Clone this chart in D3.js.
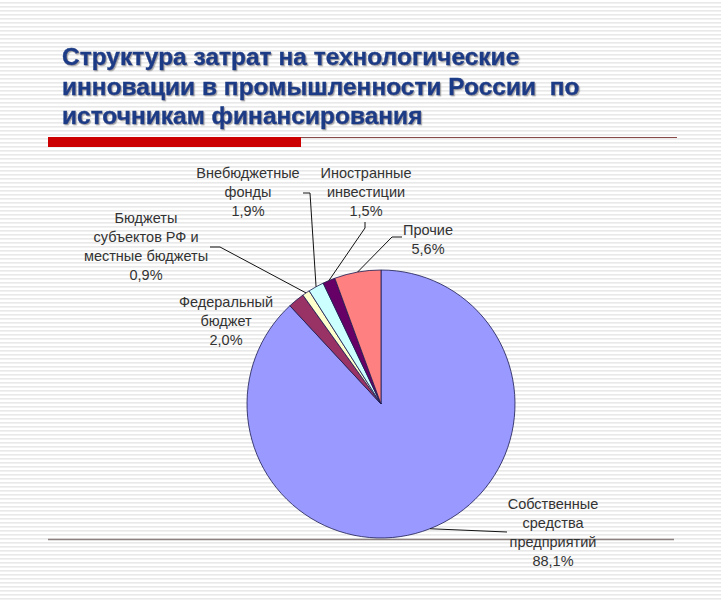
<!DOCTYPE html>
<html>
<head>
<meta charset="utf-8">
<script src="https://cdn.jsdelivr.net/npm/d3@7"></script>
<style>
  body { margin: 0; background: #fff; }
  text { font-family: "Liberation Sans", Arial, sans-serif; white-space: pre; }
</style>
</head>
<body>
<div id="vis"></div>
<script>
const FRAME_WIDTH = 721;
const FRAME_HEIGHT = 600;

// data
const titleLines = ["Структура затрат на технологические",
                    "инновации в промышленности России  по",
                    "источникам финансирования"];
const categories = [["Собственные", "средства", "предприятий"],
                    ["Федеральный", "бюджет"],
                    ["Бюджеты", "субъектов РФ и", "местные бюджеты"],
                    ["Внебюджетные", "фонды"],
                    ["Иностранные", "инвестиции"],
                    ["Прочие"]];
const values = [88.1, 2.0, 0.9, 1.9, 1.5, 5.6];
const colors = ["#9999ff", "#993366", "#ffffcc", "#ccffff", "#660066", "#ff8080"];

// label layout: centre x, first line centre y, leader points after the slice edge
const labelLayout = [
  {x: 553, y: 504, leader: [[507, 532]]},
  {x: 226, y: 302, leader: []},
  {x: 146, y: 218, leader: [[220, 247], [210, 247]]},
  {x: 248, y: 173, leader: [[310, 193], [303, 193]]},
  {x: 366, y: 173, leader: [[365, 228], [365, 222]]},
  {x: 428, y: 230, leader: [[392, 237], [402, 237]]}
];

const CX = 381, CY = 404, R = 134;
const LINE_H = 19;

const svg = d3.select("#vis").append("svg")
    .attr("width", FRAME_WIDTH)
    .attr("height", FRAME_HEIGHT);

// striped background
const defs = svg.append("defs");
const pat = defs.append("pattern")
    .attr("id", "stripes")
    .attr("width", 8).attr("height", 4)
    .attr("patternUnits", "userSpaceOnUse");
pat.append("rect").attr("width", 8).attr("height", 4).attr("fill", "#ffffff");
pat.append("rect").attr("y", 2).attr("width", 8).attr("height", 1.6).attr("fill", "#e9e9e9");

const shadow = defs.append("filter").attr("id", "shadow");
shadow.append("feDropShadow")
    .attr("dx", 1.2).attr("dy", 1.2).attr("stdDeviation", 0.6)
    .attr("flood-color", "#888").attr("flood-opacity", 0.7);

svg.append("rect")
    .attr("width", FRAME_WIDTH).attr("height", FRAME_HEIGHT)
    .attr("fill", "url(#stripes)");

// title
svg.append("g").selectAll("text")
    .data(titleLines)
    .enter()
    .append("text")
        .attr("x", 62)
        .attr("y", (d, i) => 65 + i * 29.5)
        .attr("font-size", "24.5px")
        .attr("font-weight", "bold")
        .attr("fill", "#1b3b86")
        .attr("stroke", "#1b3b86")
        .attr("stroke-width", 0.4)
        .attr("filter", "url(#shadow)")
        .text(d => d);

// red bar and rules
svg.append("line")
    .attr("x1", 300).attr("x2", 677).attr("y1", 137.5).attr("y2", 137.5)
    .attr("stroke", "#8a4a4a").attr("stroke-width", 1.2);
svg.append("rect")
    .attr("x", 48).attr("y", 137).attr("width", 253).attr("height", 10)
    .attr("fill", "#cc0000");
svg.append("line")
    .attr("x1", 48).attr("x2", 674).attr("y1", 539.5).attr("y2", 539.5)
    .attr("stroke", "#8c8080").attr("stroke-width", 1.5);

// pie
const pie = d3.pie().sort(null).value(d => d);
const arcs = pie(values);
const arc = d3.arc().innerRadius(0).outerRadius(R);
const edge = d3.arc().innerRadius(R).outerRadius(R);

const pieG = svg.append("g").attr("transform", "translate(" + CX + "," + CY + ")");
pieG.selectAll("path")
    .data(arcs)
    .enter()
    .append("path")
        .attr("d", arc)
        .attr("fill", (d, i) => colors[i])
        .attr("stroke", "#1a1a50")
        .attr("stroke-width", 0.8)
        .attr("stroke-linejoin", "round");

// leader lines
const lineGen = d3.line();
svg.append("g").selectAll("path")
    .data(arcs)
    .enter()
    .filter((d, i) => labelLayout[i].leader.length > 0)
    .append("path")
        .attr("d", (d) => {
            const i = d.index;
            const c = edge.centroid(d);
            const pts = [[CX + c[0], CY + c[1]]].concat(labelLayout[i].leader);
            return lineGen(pts);
        })
        .attr("fill", "none")
        .attr("stroke", "#111")
        .attr("stroke-width", 1);

// labels
const fmt = d3.format(".1f");
const labelG = svg.append("g");
arcs.forEach((d, i) => {
    const lines = categories[i].concat([fmt(values[i]).replace(".", ",") + "%"]);
    labelG.append("g").selectAll("text")
        .data(lines)
        .enter()
        .append("text")
            .attr("x", labelLayout[i].x)
            .attr("y", (t, j) => labelLayout[i].y + j * LINE_H + 5)
            .attr("text-anchor", "middle")
            .attr("font-size", "14.5px")
            .attr("fill", "#333")
            .text(t => t);
});
</script>
</body>
</html>
